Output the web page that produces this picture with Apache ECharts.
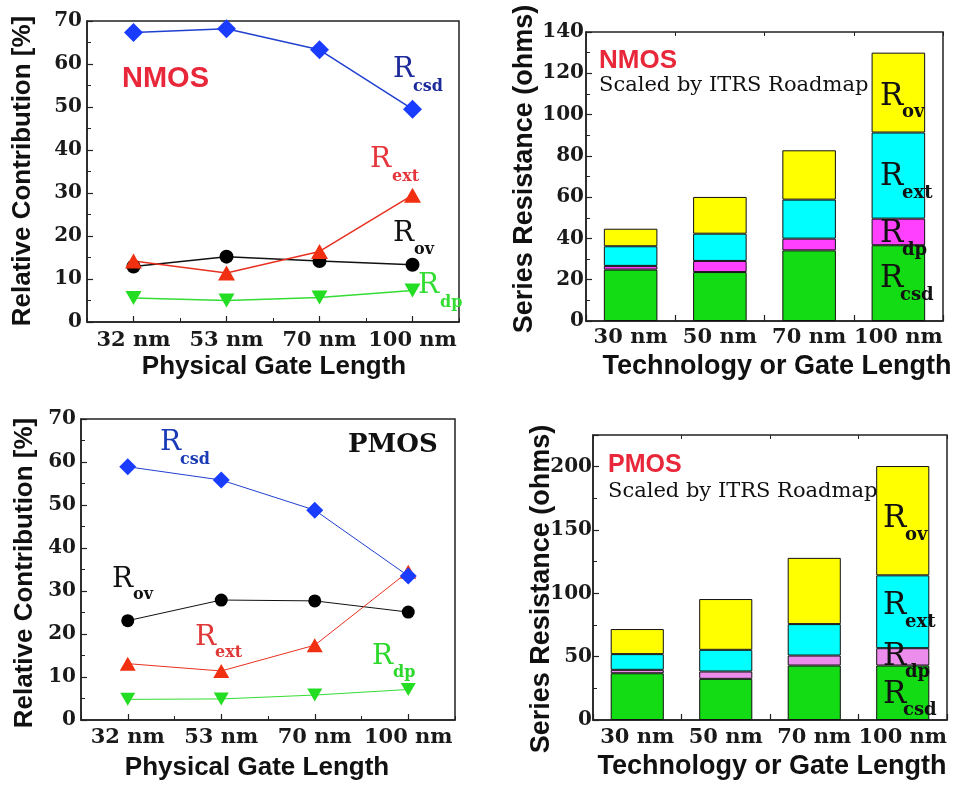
<!DOCTYPE html>
<html>
<head>
<meta charset="utf-8">
<script src="https://cdn.jsdelivr.net/npm/echarts@6.0.0/dist/echarts.min.js"></script>
<style>
  html, body { margin: 0; padding: 0; background: #fff; }
  #main { width: 958px; height: 787px; }
</style>
</head>
<body>
<div id="main"></div>
<script>
// line panels: relative contribution [%]
var lineCats = ["32 nm", "53 nm", "70 nm", "100 nm"];
var nmosCsd = [67.3, 68.2, 63.3, 49.5];
var nmosExt = [14.2, 11.4, 16.4, 29.5];
var nmosOv = [12.9, 15.2, 14.2, 13.3];
var nmosDp = [5.6, 5.0, 5.7, 7.3];
var pmosCsd = [58.9, 55.8, 48.8, 33.5];
var pmosOv = [23.1, 27.9, 27.7, 25.1];
var pmosExt = [13.1, 11.4, 17.4, 34.5];
var pmosDp = [4.8, 4.9, 5.8, 7.1];

// bar panels: series resistance (ohms), stacked bottom to top
var barCats = ["30 nm", "50 nm", "70 nm", "100 nm"];
var nBarCsd = [24.9, 23.7, 34.2, 36.7];
var nBarDp = [1.8, 5.4, 5.7, 12.9];
var nBarExt = [9.5, 13.2, 18.9, 41.7];
var nBarOv = [8.5, 17.8, 23.9, 38.7];
var pBarCsd = [36.9, 32.5, 43.0, 43.0];
var pBarDp = [2.7, 5.8, 7.9, 13.7];
var pBarExt = [12.4, 17.1, 24.8, 57.5];
var pBarOv = [19.8, 40.1, 52.3, 86.3];

var myChart = echarts.init(document.getElementById("main"));

var serif = "DejaVu Serif, serif";
var sans = "'Liberation Sans', Arial, sans-serif";

function yAxis(grid, max, interval, margin) {
  return {
    type: "value", gridIndex: grid, min: 0, max: max, interval: interval,
    axisLine: { show: true, lineStyle: { color: "#222", width: 1.5 } },
    axisTick: { show: true, inside: true, length: 6, lineStyle: { color: "#222", width: 1.2 } },
    minorTick: { show: true, splitNumber: 2, length: 4, lineStyle: { color: "#222", width: 1 } },
    splitLine: { show: false },
    axisLabel: {
      margin: margin, color: "#1a1a1a", fontFamily: serif, fontWeight: "bold", fontSize: 20,
      formatter: function (v) { return v % interval === 0 ? String(v) : ""; }
    }
  };
}

function xAxis(grid, cats, center, margin) {
  return {
    type: "category", gridIndex: grid, data: cats, position: "bottom",
    axisLine: { show: true, lineStyle: { color: "#222", width: 1.5 } },
    axisTick: { show: true, inside: true, alignWithLabel: center, length: 6, lineStyle: { color: "#222", width: 1.2 } },
    splitLine: { show: false },
    axisLabel: { interval: 0, margin: margin, color: "#1a1a1a", fontFamily: serif, fontWeight: "bold", fontSize: 21 }
  };
}

function tickAxis(grid, cats, pos) {
  return {
    type: "category", gridIndex: grid, data: cats, position: pos,
    axisLine: { show: false },
    axisTick: { show: true, inside: true, length: 4, lineStyle: { color: "#222", width: 1 } },
    axisLabel: { show: false },
    splitLine: { show: false }
  };
}

function lineSeries(xi, yi, data, lineColor, markColor, symbol, size, width, rotate) {
  return {
    type: "line", xAxisIndex: xi, yAxisIndex: yi, data: data,
    symbol: symbol, symbolSize: size, symbolRotate: rotate || 0,
    lineStyle: { color: lineColor, width: width },
    itemStyle: { color: markColor },
    z: 3
  };
}

function barSeries(xi, yi, stack, data, color) {
  return {
    type: "bar", xAxisIndex: xi, yAxisIndex: yi, stack: stack, data: data,
    barWidth: "60%",
    itemStyle: { color: color, borderColor: "#111", borderWidth: 1 }
  };
}

var graphic = [];
function txt(x, y, s, font, color, opts) {
  var o = {
    type: "text", x: x, y: y, silent: true, z: 10,
    style: { text: s, font: font, fill: color, align: "left", verticalAlign: "middle" }
  };
  if (opts) { for (var k in opts) o.style[k] = opts[k]; }
  graphic.push(o);
  return o;
}
function vtxt(x, y, s, font) {
  graphic.push({
    type: "text", x: x, y: y, rotation: Math.PI / 2, silent: true,
    style: { text: s, font: font, fill: "#111", align: "center", verticalAlign: "middle" }
  });
}
// R with subscript
function rsub(x, y, sx, sy, sub, color, rSize, sSize) {
  txt(x, y, "R", rSize + "px 'DejaVu Serif', serif", color);
  txt(sx, sy, sub, "bold " + sSize + "px 'DejaVu Serif', serif", color);
}

// axis titles
txt(274, 367, "Physical Gate Length", "bold 26px " + sans, "#111", { align: "center" });
vtxt(23, 171, "Relative Contribution [%]", "bold 26px " + sans);
txt(777, 367, "Technology or Gate Length", "bold 27px " + sans, "#111", { align: "center" });
vtxt(525, 169, "Series Resistance (ohms)", "bold 27px " + sans);
txt(257, 768, "Physical Gate Length", "bold 26px " + sans, "#111", { align: "center" });
vtxt(25, 573, "Relative Contribution [%]", "bold 26px " + sans);
txt(772, 767, "Technology or Gate Length", "bold 27px " + sans, "#111", { align: "center" });
vtxt(542, 589, "Series Resistance (ohms)", "bold 27px " + sans);

// panel 1 labels
txt(122, 79, "NMOS", "bold 29px " + sans, "#e8283a");
rsub(393, 70, 413, 87, "csd", "#1c2a9a", 28, 16);
rsub(370, 160, 392, 177, "ext", "#e5363c", 28, 16);
rsub(393, 234, 414, 250, "ov", "#111", 28, 16);
rsub(418, 286, 440, 303, "dp", "#33dd33", 28, 16);

// panel 3 labels
txt(348, 445, "PMOS", "bold 26px 'DejaVu Serif', serif", "#111");
rsub(160, 443, 180, 460, "csd", "#1a3bb5", 28, 16);
rsub(112, 580, 133, 595, "ov", "#111", 28, 16);
rsub(195, 638, 215, 653, "ext", "#e03838", 28, 16);
rsub(372, 657, 393, 673, "dp", "#2dd82d", 28, 16);

// panel 2 labels
txt(599, 61, "NMOS", "bold 26px " + sans, "#e8283a");
txt(599, 86, "Scaled by ITRS Roadmap", "21px 'DejaVu Serif', serif", "#111");
rsub(880, 97, 902, 112, "ov", "#111", 31, 18);
rsub(880, 177, 902, 193, "ext", "#111", 31, 18);
rsub(880, 234, 902, 250, "dp", "#111", 31, 18);
rsub(880, 279, 900, 295, "csd", "#111", 31, 18);

// panel 4 labels
txt(608, 465, "PMOS", "bold 25px " + sans, "#e8283a");
txt(608, 492, "Scaled by ITRS Roadmap", "21px 'DejaVu Serif', serif", "#111");
rsub(883, 519, 905, 535, "ov", "#111", 31, 18);
rsub(883, 606, 905, 622, "ext", "#111", 31, 18);
rsub(883, 657, 905, 672, "dp", "#111", 31, 18);
rsub(883, 695, 903, 710, "csd", "#111", 31, 18);

var gridStyle = { show: true, borderColor: "#222", borderWidth: 1.5, backgroundColor: "transparent" };

var option = {
  animation: false,
  backgroundColor: "#fff",
  grid: [
    Object.assign({ left: 87, top: 21, width: 372, height: 301 }, gridStyle),
    Object.assign({ left: 586, top: 32, width: 357, height: 289 }, gridStyle),
    Object.assign({ left: 81, top: 419, width: 374, height: 301 }, gridStyle),
    Object.assign({ left: 593, top: 435, width: 354, height: 285 }, gridStyle)
  ],
  xAxis: [
    xAxis(0, lineCats, true, 8),      // 0
    tickAxis(0, lineCats, "bottom"),  // 1
    xAxis(1, barCats, false, 6),      // 2
    tickAxis(1, barCats, "top"),      // 3
    xAxis(2, lineCats, true, 7),      // 4
    tickAxis(2, lineCats, "bottom"),  // 5
    xAxis(3, barCats, false, 7),      // 6
    tickAxis(3, barCats, "top")       // 7
  ],
  yAxis: [
    yAxis(0, 70, 10, 5),
    yAxis(1, 140, 20, 2),
    yAxis(2, 70, 10, 5),
    yAxis(3, 225, 50, 1)
  ],
  series: [
    // NMOS relative contribution
    lineSeries(0, 0, nmosDp, "#33dd33", "#22dd22", "triangle", [16, 14], 1.5, 180),
    lineSeries(0, 0, nmosOv, "#111", "#000", "circle", 14, 1.5),
    lineSeries(0, 0, nmosExt, "#e83020", "#f03010", "triangle", [17, 15], 1.5),
    lineSeries(0, 0, nmosCsd, "#2040d0", "#1a3cff", "diamond", [19, 19], 1.5),
    // NMOS series resistance
    barSeries(2, 1, "n", nBarCsd, "#14dc14"),
    barSeries(2, 1, "n", nBarDp, "#ff40ff"),
    barSeries(2, 1, "n", nBarExt, "#00ffff"),
    barSeries(2, 1, "n", nBarOv, "#ffff00"),
    // PMOS relative contribution
    lineSeries(4, 2, pmosDp, "#33dd33", "#22dd22", "triangle", [15, 13], 1, 180),
    lineSeries(4, 2, pmosOv, "#111", "#000", "circle", 13, 1),
    lineSeries(4, 2, pmosExt, "#e83020", "#f03010", "triangle", [16, 14], 1),
    lineSeries(4, 2, pmosCsd, "#2040d0", "#1a3cff", "diamond", [17, 17], 1),
    // PMOS series resistance
    barSeries(6, 3, "p", pBarCsd, "#14dc14"),
    barSeries(6, 3, "p", pBarDp, "#ec8cec"),
    barSeries(6, 3, "p", pBarExt, "#00ffff"),
    barSeries(6, 3, "p", pBarOv, "#ffff00")
  ],
  graphic: graphic
};

myChart.setOption(option);
</script>
</body>
</html>
